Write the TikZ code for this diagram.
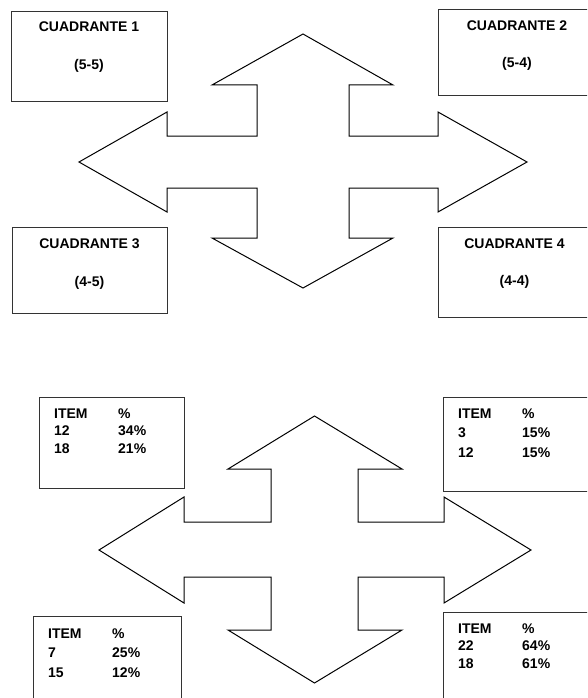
\documentclass[tikz,border=0pt]{standalone}
\usepackage{fontspec}
\setmainfont{Liberation Sans}

\begin{document}
\begin{tikzpicture}[x=1pt,y=-1pt,
  box/.style={draw=black!80,line width=1pt},
  cross/.style={draw=black,line width=1pt,line join=miter},
  lbl/.style={font=\fontsize{14}{17}\selectfont\bfseries,inner sep=0pt},
  tbl/.style={font=\fontsize{14}{17.5}\selectfont\bfseries,inner sep=0pt,anchor=base west}]

\useasboundingbox (0,0) rectangle (587,698);
\clip (0,0) rectangle (587,698);

% upper cross
\draw[cross] (303,34) -- (393,85) -- (349,85) -- (349,136) -- (438,136) -- (438,112)
   -- (527,162) -- (438,212) -- (438,188) -- (349,188) -- (349,238) -- (393,238)
   -- (303,288) -- (212,238) -- (257,238) -- (257,188) -- (167,188) -- (167,212)
   -- (79,162) -- (167,112) -- (167,136) -- (257,136) -- (257,85) -- (212,85) -- cycle;

% upper boxes
\draw[box] (11,12) rectangle (167,102);
\node[lbl] (q1) at (89,27) {CUADRANTE 1};
\node[lbl] (q1val) at (89,66) {(5-5)};

\draw[box] (438,10) rectangle (595,96);
\node[lbl] (q2) at (517,26) {CUADRANTE 2};
\node[lbl] (q2val) at (517,64) {(5-4)};

\draw[box] (12,227) rectangle (167,313);
\node[lbl] (q3) at (89.5,244) {CUADRANTE 3};
\node[lbl] (q3val) at (89.5,283) {(4-5)};

\draw[box] (438,227) rectangle (591,317);
\node[lbl] (q4) at (514.5,244) {CUADRANTE 4};
\node[lbl] (q4val) at (514.5,282) {(4-4)};

% lower cross
\draw[cross] (314.5,416) -- (402,469) -- (358,469) -- (358,522) -- (444,522) -- (444,497)
   -- (531,550) -- (444,603) -- (444,577) -- (358,577) -- (358,630) -- (402,630)
   -- (314.5,683) -- (228,630) -- (271,630) -- (271,577) -- (184,577) -- (184,603)
   -- (99,550) -- (184,497) -- (184,522) -- (271,522) -- (271,469) -- (228,469) -- cycle;

% lower boxes
\draw[box] (39,397) rectangle (184,488);
\node[tbl] (t1) at (54,418) {\begin{tabular}[t]{@{}p{64pt}@{}l@{}}
  ITEM & \%\\ 12 & 34\%\\ 18 & 21\%\end{tabular}};

\draw[box] (443,397) rectangle (588,491);
\node[tbl] (t2) at (458,418) {\begin{tabular}[t]{@{}p{64pt}@{}l@{}}
  ITEM & \%\\[2pt] 3 & 15\%\\[2pt] 12 & 15\%\end{tabular}};

\draw[box] (33,616) rectangle (181,707);
\node[tbl] (t3) at (48,638) {\begin{tabular}[t]{@{}p{64pt}@{}l@{}}
  ITEM & \%\\[2pt] 7 & 25\%\\[2pt] 15 & 12\%\end{tabular}};

\draw[box] (443,612) rectangle (588,707);
\node[tbl] (t4) at (458,633) {\begin{tabular}[t]{@{}p{64pt}@{}l@{}}
  ITEM & \%\\ 22 & 64\%\\ 18 & 61\%\end{tabular}};

\end{tikzpicture}
\end{document}
